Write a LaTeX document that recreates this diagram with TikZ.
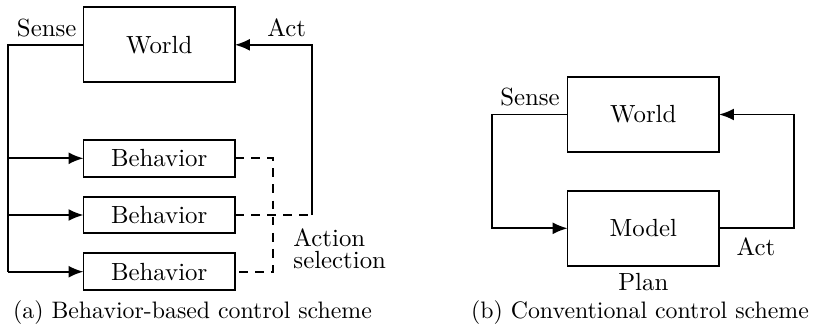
\documentclass[tikz,border=0pt]{standalone}
\usetikzlibrary{arrows.meta}
\newdimen\pxu \pxu=0.403pt
\begin{document}
\begin{tikzpicture}[x=\pxu,y=-\pxu,
  block/.style={draw, line width=0.7pt, inner sep=0pt, outer sep=0pt, minimum width=151.5\pxu},
  wire/.style={line width=0.7pt},
  feed/.style={wire, -{Latex[length=6pt,width=4.8pt]}},
  sel/.style={wire, dash pattern=on 3.5pt off 3pt},
  lbl/.style={inner sep=0pt},
  captext/.style={inner sep=0pt, font=\fontsize{9.6}{11}\selectfont}]
\useasboundingbox (0,0) rectangle (820,333);

% (a) behaviour-based scheme
\node[block, minimum height=75\pxu]   (worldA) at (159.2,44.8)  {World};
\node[block, minimum height=36.7\pxu] (behA)   at (159.2,158.3) {Behavior};
\node[block, minimum height=36.7\pxu] (behB)   at (159.2,215)   {Behavior};
\node[block, minimum height=36.7\pxu] (behC)   at (159.2,271.7) {Behavior};
\coordinate (tapC) at (8.3,271.7);
\coordinate (selA) at (273.3,158.3);
\coordinate (selC) at (273.3,271.7);
\coordinate (actA) at (311.7,215);

\draw[wire] (worldA.west) -| (tapC);
\draw[feed] (behA.west -| tapC) -- (behA.west);
\draw[feed] (behB.west -| tapC) -- (behB.west);
\draw[feed] (tapC) -- (behC.west);
\draw[sel] (behA.east) -- (selA) -- (selC) -- (behC.east);
\draw[sel] (behB.east) -- (actA);
\draw[feed] (actA) |- (worldA.east);

\node[lbl] (senseA) at (46.7,28)  {Sense};
\node[lbl] (actLA)  at (286.7,28) {Act};
\node[lbl, anchor=west, align=left] (selLbl) at (293,248.5) {Action\\[-3pt]selection};

% (b) conventional scheme
\node[block, minimum height=75.6\pxu] (worldB) at (643.3,114.5) {World};
\node[block, minimum height=75\pxu]   (modelB) at (643.3,228.3) {Model};
\coordinate (loopL) at (491.7,228.3);
\coordinate (loopR) at (794.3,228.3);
\draw[feed] (worldB.west) -| (loopL) -- (modelB.west);
\draw[feed] (modelB.east) -- (loopR) |- (worldB.east);

\node[lbl] (senseB) at (530,96.7)   {Sense};
\node[lbl] (actB)   at (756,246.7)  {Act};
\node[lbl] (planB)  at (643.3,281.7) {Plan};

% captions
\node[captext] (capA) at (192.5,313) {(a) Behavior-based control scheme};
\node[captext] (capB) at (640,313)   {(b) Conventional control scheme};
\end{tikzpicture}
\end{document}
